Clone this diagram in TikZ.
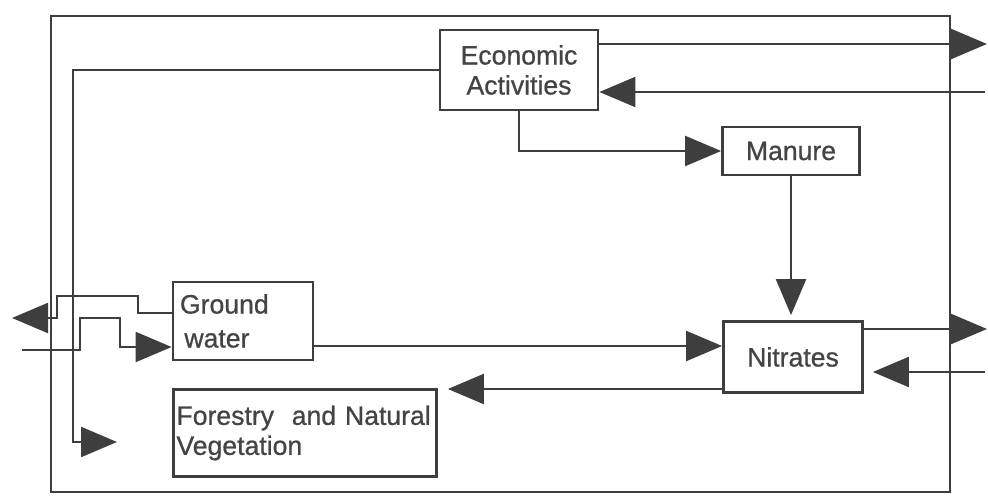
\documentclass[tikz,border=0pt]{standalone}
\usepackage{fontspec}
\setmainfont[FakeBold=0.8]{Liberation Sans}
\usepackage{tikz}
\usetikzlibrary{arrows.meta}
\definecolor{scanink}{RGB}{62,62,62}
\definecolor{scantext}{RGB}{68,68,68}
\tikzset{
  module/.style={draw=scanink, line width=1.4pt, fill=white, text=scantext,
    inner sep=3.5pt, align=center},
  flow/.style={draw=scanink, line width=1.1pt,
    -{Triangle[length=18pt, width=15pt]}},
  frame/.style={draw=scanink, line width=1.4pt}
}

\begin{document}
\begin{tikzpicture}[x=0.5pt, y=-0.5pt, font=\fontsize{13.3}{15}\selectfont]

  \useasboundingbox (0,0) rectangle (988,501);

  % Outer system boundary
  \draw[frame] (51,16) rectangle (950,492);

  % Modules
  \node[module, minimum width=79pt, minimum height=40pt]
    (econ) at (519,70) {Economic\\Activities};
  \node[module, minimum width=68.5pt, minimum height=24pt]
    (manure) at (791,151) {Manure};
  \node[module, text width=63pt, minimum height=39pt, align=left]
    (gw) at (243,321) {Ground\\[2pt]\,water};
  \node[module, minimum width=69.5pt, minimum height=35.5pt]
    (nit) at (793,357) {Nitrates};
  \node[module, inner xsep=1.5pt, text width=128.5pt, minimum height=43.5pt,
    align=left] (forest) at (305,433) {Forestry\ \ and Natural\\Vegetation};

  % Free ends and bends
  \coordinate (econOut) at (987,44);
  \coordinate (econIn) at (985,92);
  \coordinate (vegBend) at (73,442);
  \coordinate (vegIn) at (117,442);
  \coordinate (gwFlow) at (0,346);
  \coordinate (nitOut) at (987,329);
  \coordinate (nitIn) at (985,372);
  \coordinate (vegFlow) at (0,389);
  \coordinate (gwExit) at (138,296);
  \coordinate (gwExitDrop) at (57,318);
  \coordinate (gwOut) at (12,318);
  \coordinate (gwIn) at (22,350);
  \coordinate (gwInStep) at (80,318);
  \coordinate (gwInDrop) at (120,347);

  % Economic activities links
  \draw[flow] (econ.east |- econOut) -- (econOut);
  \draw[flow] (econIn) -- (econ.east |- econIn);
  \draw[flow] (econ.west) -| (vegBend) -- (vegIn);
  \draw[flow] (econ.south) |- (manure.west);

  % Manure into nitrates
  \draw[flow, shorten >=2.5pt] (manure.south) -- (manure.south |- nit.north);

  % Ground water links
  \draw[flow] ([yshift=4pt]gw.west) -| (gwExit) -| (gwExitDrop) -- (gwOut);
  \draw[flow] (gwIn) -| (gwInStep) -| (gwInDrop) -- (gw.west |- gwInDrop);
  \draw[flow] (gw.east |- gwFlow) -- (nit.west |- gwFlow);

  % Nitrates links
  \draw[flow] (nit.east |- nitOut) -- (nitOut);
  \draw[flow, shorten >=4.5pt] (nitIn) -- (nit.east |- nitIn);
  \draw[flow, shorten >=5pt] (nit.west |- vegFlow) -- (forest.east |- vegFlow);

\end{tikzpicture}
\end{document}
